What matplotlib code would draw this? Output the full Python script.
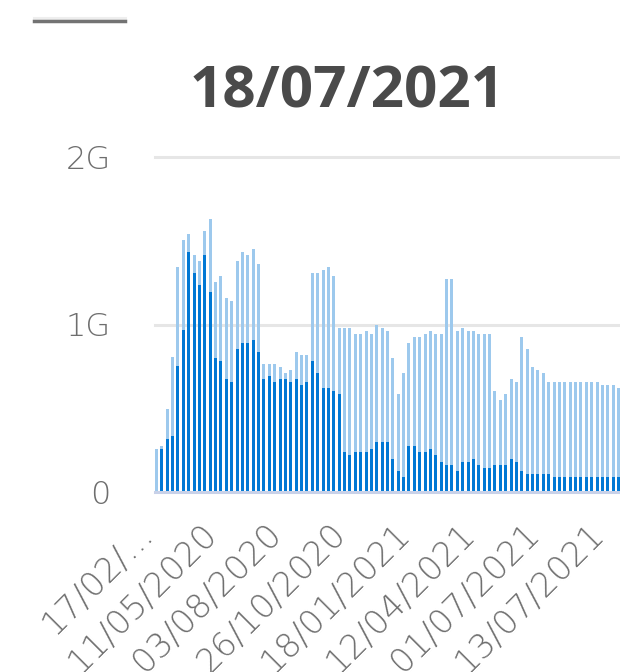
import matplotlib
matplotlib.use('Agg')
import matplotlib.pyplot as plt
import matplotlib.transforms as mtrans
from matplotlib.lines import Line2D
import numpy as np

plt.rcParams['font.family'] = ['Open Sans', 'DejaVu Sans']

# stacked bars: dark part (used) and the total height of each bar, in G
total = [0.255, 0.273, 0.498, 0.808, 1.345, 1.505, 1.542, 1.416, 1.381, 1.560,
         1.632, 1.255, 1.291, 1.159, 1.141, 1.381, 1.434, 1.416, 1.452, 1.363,
         0.765, 0.765, 0.765, 0.747, 0.712, 0.729, 0.837, 0.819, 0.819, 1.309,
         1.309, 1.327, 1.345, 1.291, 0.980, 0.980, 0.980, 0.944, 0.944, 0.962,
         0.944, 0.998, 0.980, 0.962, 0.801, 0.586, 0.712, 0.891, 0.926, 0.926,
         0.944, 0.962, 0.944, 0.944, 1.273, 1.273, 0.962, 0.980, 0.962, 0.962,
         0.944, 0.944, 0.944, 0.603, 0.550, 0.586, 0.675, 0.657, 0.926, 0.854,
         0.747, 0.729, 0.712, 0.657, 0.657, 0.657, 0.657, 0.657, 0.657, 0.657,
         0.657, 0.657, 0.657, 0.640, 0.640, 0.640, 0.622]
used = [0.0, 0.255, 0.316, 0.334, 0.753, 0.965, 1.434, 1.309, 1.237, 1.416,
        1.196, 0.801, 0.782, 0.675, 0.657, 0.854, 0.891, 0.891, 0.908, 0.837,
        0.675, 0.693, 0.657, 0.675, 0.675, 0.657, 0.675, 0.640, 0.657, 0.782,
        0.712, 0.622, 0.622, 0.603, 0.586, 0.237, 0.219, 0.237, 0.237, 0.237,
        0.255, 0.298, 0.298, 0.298, 0.200, 0.128, 0.091, 0.273, 0.273, 0.237,
        0.237, 0.255, 0.219, 0.182, 0.164, 0.164, 0.128, 0.182, 0.182, 0.200,
        0.164, 0.146, 0.146, 0.164, 0.164, 0.164, 0.200, 0.182, 0.128, 0.109,
        0.109, 0.109, 0.109, 0.109, 0.091, 0.091, 0.091, 0.091, 0.091, 0.091,
        0.091, 0.091, 0.091, 0.091, 0.091, 0.091, 0.091]

tick_pos = [0, 12, 24, 36, 48, 60, 72, 84]
tick_labels = ['17/02/...', '11/05/2020', '03/08/2020', '26/10/2020',
               '18/01/2021', '12/04/2021', '01/07/2021', '13/07/2021']
y_ticks = [0, 1, 2]
y_labels = ['0', '1G', '2G']

dark = '#0078d4'
light = '#9dc9ed'
label_font = ['DejaVu Sans']

fig = plt.figure(figsize=(6.2, 6.72), dpi=100)
ax = fig.add_axes([155 / 620, 1 - 492 / 672, 465 / 620, 335 / 672])

x = np.arange(len(total))
rest = np.array(total) - np.array(used)
ax.bar(x, used, width=0.56, color=dark, linewidth=0, zorder=2)
ax.bar(x, rest, bottom=used, width=0.56, color=light, linewidth=0, zorder=2)

ax.set_xlim(-0.28, 86.28)
ax.set_ylim(0, 2)

for y in [1, 2]:
    ax.axhline(y, color='#e6e6e6', lw=2.2, zorder=1, clip_on=False)
ax.axhline(0, color='#c8d1e8', lw=2.2, zorder=3, clip_on=False)

for s in ax.spines.values():
    s.set_visible(False)

ax.set_yticks(y_ticks)
ax.set_yticklabels(y_labels, fontsize=23, color='#6e6e6e', fontweight='light',
                   family=label_font)
ax.set_xticks(tick_pos)
ax.set_xticklabels(tick_labels, fontsize=24.5, color='#6e6e6e', fontweight='light',
                   family=label_font, rotation=45, ha='right', va='center',
                   rotation_mode='anchor')
ax.tick_params(axis='y', length=0, pad=32)
ax.tick_params(axis='x', length=0, pad=32)

# move the date labels a little left and up
off = mtrans.ScaledTranslation(-9 / 100, 8 / 100, fig.dpi_scale_trans)
for lbl in ax.get_xticklabels():
    lbl.set_transform(lbl.get_transform() + off)

fig.text(347.5 / 620, 1 - 107 / 672, '18/07/2021', ha='center', va='baseline',
         fontsize=42, fontweight='bold', color='#4a4a4a')

# small bar at the top left corner
fig.add_artist(Line2D([34 / 620, 125 / 620], [1 - 17.5 / 672] * 2, lw=2.2, color='#eeeeee'))
fig.add_artist(Line2D([34 / 620, 125 / 620], [1 - 21 / 672] * 2, lw=2.5, color='#737373'))

fig.savefig('out.png', dpi=100)
